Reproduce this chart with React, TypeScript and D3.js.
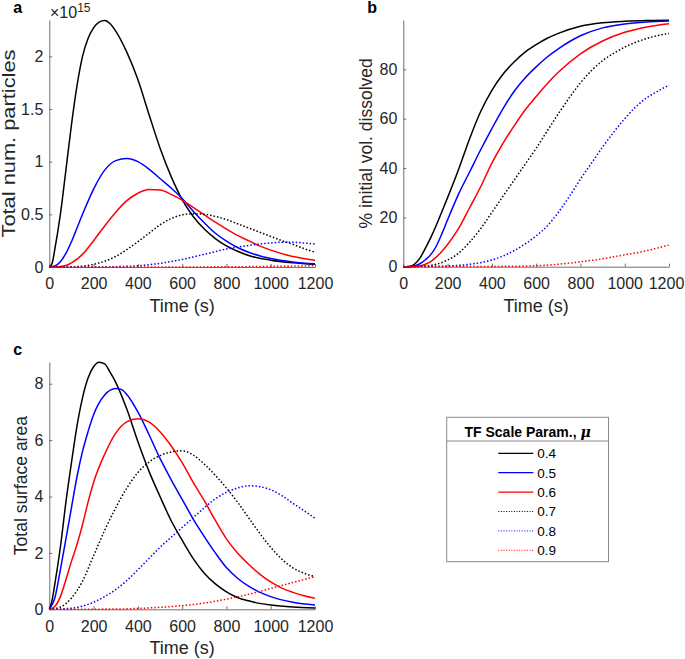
import React, { useEffect, useRef } from 'react';
import * as d3 from 'd3';

// legend entries (TF scale parameter mu) and line styles
const muValues = ['0.4', '0.5', '0.6', '0.7', '0.8', '0.9'];
const lineColors = ['#000000', '#0000ff', '#ff0000', '#000000', '#0000ff', '#ff0000'];
const dottedLine = [false, false, false, true, true, true];

const timeTicks = [0, 200, 400, 600, 800, 1000, 1200];
const particleTicks = [0, 0.5, 1, 1.5, 2];
const dissolvedTicks = [0, 20, 40, 60, 80];
const areaTicks = [0, 2, 4, 6, 8];

// panel a: total number of particles (x 1e15), [time s, value]
const particles04 = [[0, 0], [12, 0.03], [25, 0.17], [50, 0.5], [75, 0.92], [100, 1.35], [125, 1.72], [150, 2.0], [175, 2.17], [200, 2.27], [225, 2.325], [250, 2.34], [275, 2.31], [300, 2.24], [350, 2.04], [400, 1.78], [450, 1.45], [500, 1.13], [550, 0.86], [600, 0.64], [650, 0.48], [700, 0.36], [750, 0.27], [800, 0.2], [850, 0.15], [900, 0.11], [1000, 0.065], [1100, 0.04], [1200, 0.025]];
const particles05 = [[0, 0], [25, 0.01], [50, 0.05], [75, 0.13], [100, 0.24], [125, 0.37], [150, 0.5], [200, 0.74], [250, 0.92], [300, 1.01], [350, 1.03], [400, 1.0], [450, 0.93], [500, 0.84], [550, 0.75], [600, 0.65], [650, 0.53], [700, 0.42], [750, 0.32], [800, 0.245], [850, 0.185], [900, 0.14], [1000, 0.08], [1100, 0.048], [1200, 0.03]];
const particles06 = [[0, 0], [50, 0.005], [75, 0.015], [100, 0.04], [150, 0.12], [200, 0.25], [250, 0.39], [300, 0.52], [350, 0.63], [400, 0.7], [450, 0.735], [500, 0.73], [550, 0.69], [600, 0.635], [650, 0.565], [700, 0.495], [750, 0.425], [800, 0.36], [850, 0.3], [900, 0.25], [950, 0.2], [1000, 0.16], [1100, 0.1], [1200, 0.065]];
const particles07 = [[0, 0], [100, 0.002], [150, 0.008], [200, 0.025], [250, 0.055], [300, 0.1], [350, 0.165], [400, 0.24], [450, 0.32], [500, 0.4], [550, 0.46], [600, 0.495], [650, 0.505], [700, 0.5], [750, 0.48], [800, 0.45], [850, 0.41], [900, 0.37], [950, 0.33], [1000, 0.29], [1050, 0.25], [1100, 0.215], [1150, 0.175], [1200, 0.14]];
const particles08 = [[0, 0], [200, 0.0005], [300, 0.003], [400, 0.012], [500, 0.035], [600, 0.072], [700, 0.12], [800, 0.17], [900, 0.205], [1000, 0.228], [1050, 0.235], [1100, 0.235], [1150, 0.228], [1200, 0.218]];
const particles09 = [[0, 0], [600, 0.0005], [800, 0.002], [1000, 0.006], [1200, 0.012]];

// panel b: % initial volume dissolved
const dissolved04 = [[0, 0], [25, 0.1], [50, 1], [75, 3.5], [100, 7.5], [125, 12], [150, 17], [175, 22.5], [200, 28], [250, 39.5], [300, 52], [350, 63], [400, 71.5], [450, 78], [500, 83], [550, 87], [600, 90], [650, 92.6], [700, 94.6], [800, 97.5], [900, 98.9], [1000, 99.5], [1100, 99.8], [1200, 99.9]];
const dissolved05 = [[0, 0], [25, 0.02], [50, 0.3], [75, 1.2], [100, 2.8], [125, 5], [150, 8.5], [175, 13.5], [200, 19], [250, 29.5], [300, 38.5], [350, 47.5], [400, 56], [450, 64], [500, 71], [550, 76.5], [600, 81], [650, 85], [700, 88.3], [800, 93.6], [900, 96.8], [1000, 98.4], [1100, 99.2], [1200, 99.6]];
const dissolved06 = [[0, 0], [50, 0.05], [75, 0.3], [100, 1], [125, 2.2], [150, 4], [175, 6.3], [200, 9], [250, 15.5], [300, 24], [350, 32.5], [400, 42], [450, 50], [500, 57], [550, 63.5], [600, 69], [650, 74.2], [700, 78.8], [800, 86.3], [900, 91.5], [1000, 95], [1100, 97.2], [1200, 98.5]];
const dissolved07 = [[0, 0], [100, 0.3], [150, 1], [200, 2.7], [250, 5.5], [300, 10], [350, 15.5], [400, 22], [450, 28.5], [500, 35], [550, 41.5], [600, 48], [650, 55], [700, 62], [750, 68.5], [800, 74.5], [850, 79.5], [900, 83.5], [950, 86.5], [1000, 89], [1100, 92.5], [1200, 94.6]];
const dissolved08 = [[0, 0], [200, 0.3], [300, 1], [400, 2.7], [450, 4.3], [500, 6.5], [550, 9.2], [600, 12.5], [650, 16.5], [700, 22], [750, 28.5], [800, 35.5], [850, 42], [900, 48.5], [950, 54.5], [1000, 60], [1050, 64.8], [1100, 68.5], [1150, 71.2], [1200, 73.6]];
const dissolved09 = [[0, 0], [400, 0.1], [600, 0.4], [700, 1], [800, 2], [900, 3.2], [950, 4], [1000, 4.8], [1100, 6.5], [1200, 8.8]];

// panel c: total surface area
const area04 = [[0, 0], [12, 0.3], [25, 0.9], [50, 2.2], [75, 3.8], [100, 5.2], [125, 6.5], [150, 7.5], [175, 8.2], [200, 8.6], [225, 8.76], [250, 8.7], [275, 8.4], [300, 8.05], [350, 7.1], [400, 5.95], [450, 4.9], [500, 4.0], [550, 3.15], [600, 2.45], [650, 1.8], [700, 1.28], [750, 0.9], [800, 0.62], [850, 0.42], [900, 0.3], [950, 0.21], [1000, 0.15], [1100, 0.08], [1200, 0.05]];
const area05 = [[0, 0], [25, 0.4], [50, 1.4], [75, 2.5], [100, 3.6], [125, 4.7], [150, 5.6], [175, 6.3], [200, 6.9], [250, 7.6], [300, 7.83], [325, 7.8], [350, 7.62], [400, 7.0], [450, 6.2], [500, 5.35], [550, 4.6], [600, 3.9], [650, 3.2], [700, 2.58], [750, 2.0], [800, 1.48], [850, 1.1], [900, 0.82], [950, 0.61], [1000, 0.45], [1100, 0.25], [1200, 0.15]];
const area06 = [[0, 0], [25, 0.1], [50, 0.45], [75, 1.05], [100, 1.7], [125, 2.3], [150, 3.0], [175, 3.8], [200, 4.5], [250, 5.5], [300, 6.25], [350, 6.65], [400, 6.76], [450, 6.65], [500, 6.3], [550, 5.8], [600, 5.2], [650, 4.5], [700, 3.85], [750, 3.15], [800, 2.5], [850, 2.0], [900, 1.6], [950, 1.25], [1000, 0.97], [1050, 0.75], [1100, 0.6], [1150, 0.48], [1200, 0.39]];
const area07 = [[0, 0], [50, 0.08], [100, 0.4], [150, 1.0], [200, 1.9], [250, 2.8], [300, 3.6], [350, 4.3], [400, 4.85], [450, 5.22], [500, 5.45], [550, 5.58], [600, 5.62], [650, 5.47], [700, 5.15], [750, 4.75], [800, 4.3], [850, 3.8], [900, 3.25], [950, 2.7], [1000, 2.2], [1050, 1.78], [1100, 1.47], [1150, 1.28], [1200, 1.16]];
const area08 = [[0, 0], [100, 0.04], [200, 0.25], [250, 0.45], [300, 0.7], [350, 1.02], [400, 1.4], [450, 1.8], [500, 2.2], [550, 2.55], [600, 2.9], [650, 3.25], [700, 3.6], [750, 3.92], [800, 4.15], [850, 4.3], [900, 4.38], [950, 4.35], [1000, 4.24], [1050, 4.03], [1100, 3.76], [1150, 3.5], [1200, 3.23]];
const area09 = [[0, 0], [300, 0.01], [400, 0.03], [500, 0.07], [600, 0.13], [700, 0.22], [800, 0.36], [900, 0.53], [1000, 0.74], [1100, 0.95], [1200, 1.16]];

const FONT = '"Liberation Sans", Arial, Helvetica, sans-serif';
const TEXT = '#262626';

const panels = [
  { letter: 'a', left: 49.3, right: 315, top: 20, bottom: 267, yMax: 2.345, yTicks: particleTicks, yLabel: 'Total num. particles', labelX: 15, labelLen: 188, series: [particles04, particles05, particles06, particles07, particles08, particles09] },
  { letter: 'b', left: 403.3, right: 669, top: 20, bottom: 266.7, yMax: 100, yTicks: dissolvedTicks, yLabel: '% initial vol. dissolved', labelX: 372, labelLen: 0, series: [dissolved04, dissolved05, dissolved06, dissolved07, dissolved08, dissolved09] },
  { letter: 'c', left: 49.3, right: 315, top: 362, bottom: 609.3, yMax: 8.77, yTicks: areaTicks, yLabel: 'Total surface area', labelX: 27, labelLen: 0, series: [area04, area05, area06, area07, area08, area09] },
];

const App = () => {
  const ref = useRef(null);

  useEffect(() => {
    d3.select(ref.current).select('svg').remove();

    const svg = d3.select(ref.current)
      .append('svg')
      .attr('width', 685)
      .attr('height', 659)
      .style('position', 'absolute')
      .style('left', '0px')
      .style('top', '0px')
      .style('background', '#fff')
      .style('font-family', FONT);

    panels.forEach(p => {
      const x = d3.scaleLinear().domain([0, 1200]).range([p.left, p.right]);
      const y = d3.scaleLinear().domain([0, p.yMax]).range([p.bottom, p.top]);

      const xAxis = svg.append('g')
        .attr('transform', `translate(0,${p.bottom})`)
        .call(d3.axisBottom(x).tickValues(timeTicks).tickSize(-3).tickSizeOuter(0).tickPadding(11).tickFormat(d3.format('d')));
      const yAxis = svg.append('g')
        .attr('transform', `translate(${p.left},0)`)
        .call(d3.axisLeft(y).tickValues(p.yTicks).tickSize(-3).tickSizeOuter(0).tickPadding(6).tickFormat(d3.format('~g')));

      [xAxis, yAxis].forEach(ax => {
        ax.select('.domain').attr('stroke', '#707070');
        ax.selectAll('.tick line').attr('stroke', '#707070');
        ax.selectAll('.tick text')
          .attr('fill', TEXT)
          .style('font-size', '16px')
          .style('font-family', FONT);
      });

      // keep the last label inside the page on the right-hand panel
      if (p.right > 600) {
        xAxis.selectAll('.tick text').filter(d => d === 1200).attr('dx', -3);
      }

      const line = d3.line()
        .x(d => x(d[0]))
        .y(d => y(d[1]))
        .curve(d3.curveMonotoneX);

      p.series.forEach((s, i) => {
        svg.append('path')
          .attr('d', line(s))
          .attr('fill', 'none')
          .attr('stroke', lineColors[i])
          .attr('stroke-width', 1.5)
          .attr('stroke-dasharray', dottedLine[i] ? '1.5,2' : null);
      });

      svg.append('text')
        .attr('x', (p.left + p.right) / 2)
        .attr('y', p.bottom + 45)
        .attr('text-anchor', 'middle')
        .attr('fill', TEXT)
        .style('font-size', '18px')
        .text('Time (s)');

      const yl = svg.append('text')
        .attr('transform', `translate(${p.labelX},${(p.top + p.bottom) / 2}) rotate(-90)`)
        .attr('text-anchor', 'middle')
        .attr('fill', TEXT)
        .style('font-size', '17.5px')
        .text(p.yLabel);
      if (p.labelLen) yl.attr('textLength', p.labelLen).attr('lengthAdjust', 'spacingAndGlyphs');

      svg.append('text')
        .attr('x', p.left - 36)
        .attr('y', p.top - 7)
        .attr('fill', '#000')
        .style('font-size', '16px')
        .style('font-weight', 'bold')
        .text(p.letter);
    });

    // exponent label on panel a
    const expo = svg.append('text')
      .attr('x', 50)
      .attr('y', 18)
      .attr('fill', TEXT)
      .style('font-size', '16px');
    expo.append('tspan').text('\u00d710');
    expo.append('tspan').attr('dy', -6).style('font-size', '12px').text('15');

    // legend
    const lg = svg.append('g');
    lg.append('rect')
      .attr('x', 446.7)
      .attr('y', 417.3)
      .attr('width', 161.8)
      .attr('height', 144.4)
      .attr('fill', '#fff')
      .attr('stroke', '#888')
      .attr('stroke-width', 1);
    lg.append('line')
      .attr('x1', 446.7)
      .attr('x2', 608.5)
      .attr('y1', 441)
      .attr('y2', 441)
      .attr('stroke', '#888');
    const title = lg.append('text')
      .attr('x', 527.6)
      .attr('y', 437)
      .attr('text-anchor', 'middle')
      .attr('fill', '#000')
      .style('font-size', '14px')
      .style('font-weight', 'bold');
    title.append('tspan').text('TF Scale Param., ');
    title.append('tspan').style('font-style', 'italic').style('font-family', '"DejaVu Serif", serif').text('\u03bc');

    muValues.forEach((mu, i) => {
      const cy = 453.3 + i * 19.4;
      lg.append('line')
        .attr('x1', 498.3)
        .attr('x2', 533.3)
        .attr('y1', cy)
        .attr('y2', cy)
        .attr('stroke', lineColors[i])
        .attr('stroke-width', dottedLine[i] ? 1 : 1.3)
        .attr('stroke-dasharray', dottedLine[i] ? '1,1.6' : null);
      lg.append('text')
        .attr('x', 537.3)
        .attr('y', cy)
        .attr('dy', '0.36em')
        .attr('fill', '#000')
        .style('font-size', '13.5px')
        .text(mu);
    });
  }, []);

  return <div ref={ref}></div>;
};

export default App;
